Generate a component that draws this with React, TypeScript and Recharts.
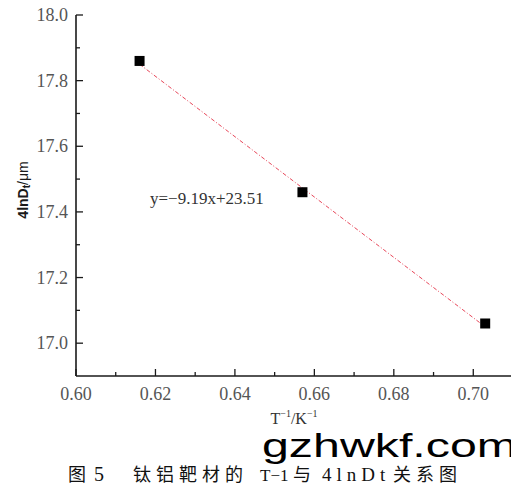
import React from "react";
import { ComposedChart, Scatter, XAxis, YAxis } from "recharts";

// measured points
const invT = [0.616, 0.657, 0.703];
const lnD = [17.86, 17.46, 17.06];

// fitted line y=-9.19x+23.51, ends
const fitX = [0.616, 0.703];
const fitY = [17.85, 17.05];

const xTicks = [0.6, 0.61, 0.62, 0.63, 0.64, 0.65, 0.66, 0.67, 0.68, 0.69, 0.7];
const xLabels = ["0.60", "", "0.62", "", "0.64", "", "0.66", "", "0.68", "", "0.70"];
const yTicks = [17.0, 17.1, 17.2, 17.3, 17.4, 17.5, 17.6, 17.7, 17.8, 17.9, 18.0];
const yLabels = ["17.0", "", "17.2", "", "17.4", "", "17.6", "", "17.8", "", "18.0"];

const points = invT.map((x, i) => ({ x, y: lnD[i] }));
const fit = fitX.map((x, i) => ({ x, y: fitY[i] }));

const AXIS = "#1a1a1a";
const SERIF = "'Liberation Serif', 'Times New Roman', serif";
const CJK = "'Noto Sans CJK SC', sans-serif";

const XTick = ({ x, y, index }: any) => {
  const label = xLabels[index];
  return (
    <g>
      <line x1={x} y1={y} x2={x} y2={y - (label ? 7 : 4)} stroke={AXIS} strokeWidth={1.3} />
      {label && (
        <text x={x} y={y + 18} textAnchor="middle" dominantBaseline="central"
          style={{ fontFamily: SERIF, fontSize: 18 }} fill="#555">{label}</text>
      )}
    </g>
  );
};

const YTick = ({ x, y, index }: any) => {
  const label = yLabels[index];
  return (
    <g>
      <line x1={x} y1={y} x2={x + (label ? 7 : 4)} y2={y} stroke={AXIS} strokeWidth={1.3} />
      {label && (
        <text x={x - 8} y={y} textAnchor="end" dominantBaseline="central"
          style={{ fontFamily: SERIF, fontSize: 18 }} fill="#555">{label}</text>
      )}
    </g>
  );
};

const Square = ({ cx, cy }: any) => (
  <rect x={cx - 5} y={cy - 5} width={10} height={10} fill="#000" />
);

export default function App() {
  return (
    <div style={{ position: "relative", width: 511, height: 484, background: "#fff" }}>
      <ComposedChart width={511} height={484} margin={{ top: 7, right: 6, left: 8, bottom: 86 }}>
        <XAxis xAxisId="b" dataKey="x" type="number" domain={[0.6, 0.71]} ticks={xTicks}
          allowDataOverflow height={30} tickSize={0} tickMargin={0} tickLine={false}
          axisLine={{ stroke: AXIS, strokeWidth: 1.6 }} tick={<XTick />} interval={0} />
        <XAxis xAxisId="t" orientation="top" dataKey="x" type="number" domain={[0.6, 0.71]}
          height={0} tick={false} tickLine={false} axisLine={{ stroke: AXIS, strokeWidth: 1.6 }} />
        <YAxis yAxisId="l" dataKey="y" type="number" domain={[16.9, 18.0]} ticks={yTicks}
          allowDataOverflow width={60} tickSize={0} tickMargin={0} tickLine={false}
          axisLine={{ stroke: AXIS, strokeWidth: 1.6 }} tick={<YTick />} interval={0} />
        <YAxis yAxisId="r" orientation="right" dataKey="y" type="number" domain={[16.9, 18.0]}
          width={0} tick={false} tickLine={false} axisLine={{ stroke: AXIS, strokeWidth: 1.6 }} />
        <Scatter xAxisId="b" yAxisId="l" data={fit} isAnimationActive={false}
          shape={() => <g />}
          line={{ stroke: "#e8475a", strokeWidth: 1, strokeDasharray: "4 2 1 2" }} />
        <Scatter xAxisId="b" yAxisId="l" data={points} isAnimationActive={false} shape={<Square />} />
      </ComposedChart>
      <svg width={511} height={484} style={{ position: "absolute", left: 0, top: 0, pointerEvents: "none" }}>
        <text x={142} y={190} dominantBaseline="central" fill="#333"
          style={{ fontFamily: SERIF, fontSize: 17 }}>
          y=−9.19x+23.51
        </text>
        <text transform="translate(15,182) rotate(-90)" textAnchor="middle" dominantBaseline="central"
          fontFamily="'Liberation Sans', Arial, sans-serif" fontSize={14} fill="#1a1a1a">
          <tspan fontWeight="bold">4lnD</tspan>
          <tspan fontWeight="bold" fontSize={10} dy={3}>t</tspan>
          <tspan dy={-3}>/μm</tspan>
        </text>
        <text x={286} y={410} textAnchor="middle" dominantBaseline="central"
          style={{ fontFamily: SERIF, fontSize: 16 }} fill="#333">
          T<tspan fontSize={10} dy={-5}>−1</tspan><tspan dy={5}>/K</tspan><tspan fontSize={10} dy={-5}>−1</tspan>
        </text>
        {/* caption */}
        <g fill="#111">
          <text x={60} y={473} style={{ fontFamily: CJK, fontSize: 18 }}>图</text>
          <text x={86} y={473} style={{ fontFamily: SERIF, fontSize: 20 }}>5</text>
          <text x={125} y={473} style={{ fontFamily: CJK, fontSize: 18, letterSpacing: 5 }}>钛铝靶材的</text>
          <text x={252} y={473} style={{ fontFamily: SERIF, fontSize: 17 }}>T−1</text>
          <text x={285} y={473} style={{ fontFamily: CJK, fontSize: 18 }}>与</text>
          <text x={314} y={473} style={{ fontFamily: SERIF, fontSize: 19, letterSpacing: 5 }}>4lnDt</text>
          <text x={385} y={473} style={{ fontFamily: CJK, fontSize: 18, letterSpacing: 5 }}>关系图</text>
        </g>
        <text x={254} y={449} textLength={255} lengthAdjust="spacingAndGlyphs"
          fontFamily="'Liberation Sans', Arial, sans-serif" fontSize={34} fill="#000">
          gzhwkf.com
        </text>
      </svg>
    </div>
  );
}
